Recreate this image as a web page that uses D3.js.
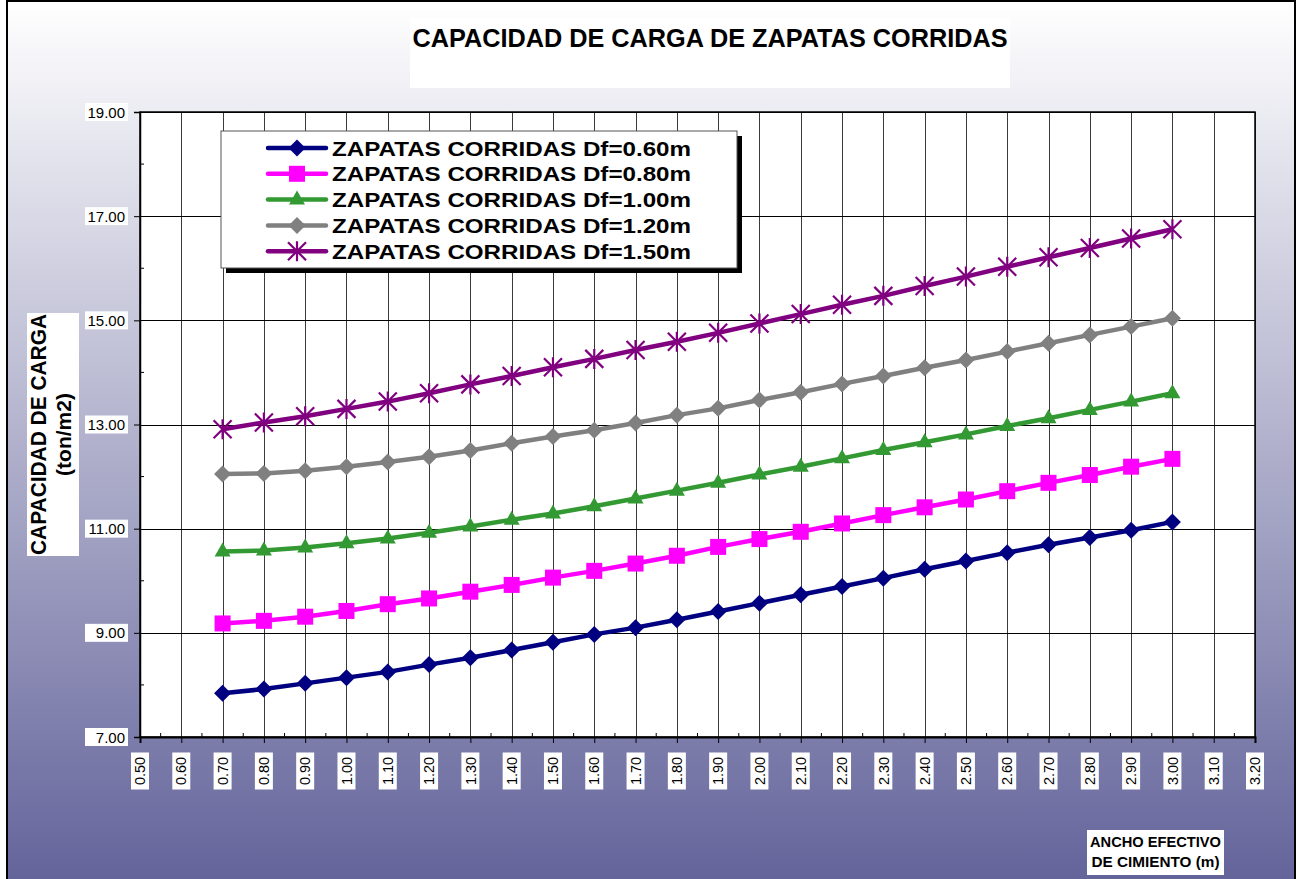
<!DOCTYPE html>
<html>
<head>
<meta charset="utf-8">
<script src="https://cdn.jsdelivr.net/npm/d3@7"></script>
<style>
  html, body { margin: 0; padding: 0; background: #fff; }
  svg { display: block; font-family: "Liberation Sans", Arial, sans-serif; }
</style>
</head>
<body>
<svg id="chart" width="1296" height="879"></svg>
<script>
// Ancho efectivo de cimiento B (m)
const anchos = [0.70, 0.80, 0.90, 1.00, 1.10, 1.20, 1.30, 1.40, 1.50, 1.60, 1.70, 1.80,
                1.90, 2.00, 2.10, 2.20, 2.30, 2.40, 2.50, 2.60, 2.70, 2.80, 2.90, 3.00];

// Capacidad de carga (ton/m2) por profundidad de desplante
const df060 = [7.84, 7.92, 8.03, 8.14, 8.25, 8.39, 8.52, 8.67, 8.82, 8.97, 9.10, 9.25,
               9.41, 9.57, 9.73, 9.89, 10.05, 10.22, 10.38, 10.54, 10.69, 10.83, 10.97, 11.13];
const df080 = [9.18, 9.23, 9.31, 9.42, 9.55, 9.66, 9.79, 9.92, 10.06, 10.19, 10.33, 10.48,
               10.65, 10.80, 10.94, 11.10, 11.26, 11.41, 11.56, 11.72, 11.88, 12.03, 12.19, 12.34];
const df100 = [10.56, 10.58, 10.64, 10.72, 10.81, 10.92, 11.04, 11.17, 11.29, 11.43, 11.58, 11.73,
               11.88, 12.04, 12.19, 12.35, 12.51, 12.66, 12.81, 12.97, 13.12, 13.28, 13.44, 13.60];
const df120 = [12.05, 12.06, 12.11, 12.19, 12.28, 12.38, 12.50, 12.64, 12.77, 12.89, 13.03, 13.18,
               13.31, 13.47, 13.62, 13.78, 13.93, 14.09, 14.24, 14.40, 14.56, 14.72, 14.88, 15.04];
const df150 = [12.91, 13.04, 13.16, 13.30, 13.44, 13.60, 13.77, 13.93, 14.10, 14.26, 14.43, 14.59,
               14.76, 14.94, 15.12, 15.30, 15.47, 15.66, 15.84, 16.03, 16.21, 16.39, 16.57, 16.75];

const seriesNames = ["ZAPATAS CORRIDAS Df=0.60m", "ZAPATAS CORRIDAS Df=0.80m",
                     "ZAPATAS CORRIDAS Df=1.00m", "ZAPATAS CORRIDAS Df=1.20m",
                     "ZAPATAS CORRIDAS Df=1.50m"];

// Ejes
const xTicks = d3.range(5, 33).map(d => d / 10);        // 0.50 ... 3.20
const yTicks = [7, 9, 11, 13, 15, 17, 19];
const xDomain = [0.5, 3.2];
const yDomain = [7, 19];

const titulo = "CAPACIDAD DE CARGA DE ZAPATAS CORRIDAS";
const tituloY = ["CAPACIDAD DE CARGA", "(ton/m2)"];
const tituloX = ["ANCHO EFECTIVO", "DE CIMIENTO (m)"];

// ---- estilos ----
const estilos = [
  { color: "#000080", shape: "diamond",  width: 4.5 },
  { color: "#FF00FF", shape: "square",   width: 4.5 },
  { color: "#339933", shape: "triangle", width: 4.5 },
  { color: "#808080", shape: "diamond",  width: 4.5 },
  { color: "#800080", shape: "asterisk", width: 4.5 }
];
const valores = [df060, df080, df100, df120, df150];
const series = seriesNames.map((name, i) => ({
  name, ...estilos[i],
  values: anchos.map((x, j) => ({ x, y: valores[i][j] }))
}));

const svg = d3.select("#chart");
const W = 1296, H = 879;
const plot = { left: 140, right: 1255, top: 112, bottom: 737 };

// Fondo degradado
const defs = svg.append("defs");
const grad = defs.append("linearGradient").attr("id", "bg")
  .attr("x1", 0).attr("y1", 0).attr("x2", 0).attr("y2", 1);
grad.append("stop").attr("offset", "0%").attr("stop-color", "#ffffff");
grad.append("stop").attr("offset", "100%").attr("stop-color", "#62629a");

svg.append("rect").attr("x", 0).attr("y", 0).attr("width", W).attr("height", H).attr("fill", "#fff");
svg.append("rect").attr("x", 7).attr("y", 1).attr("width", W - 8).attr("height", H + 10)
  .attr("fill", "url(#bg)").attr("stroke", "#000").attr("stroke-width", 2);

// Título
svg.append("rect").attr("x", 410).attr("y", 18).attr("width", 600).attr("height", 70).attr("fill", "#fff");
svg.append("text").attr("x", 710).attr("y", 47).attr("text-anchor", "middle")
  .attr("font-size", 25).attr("font-weight", "bold").attr("fill", "#000")
  .attr("textLength", 595).attr("lengthAdjust", "spacingAndGlyphs")
  .text(titulo);

const x = d3.scaleLinear().domain(xDomain).range([plot.left, plot.right]);
const y = d3.scaleLinear().domain(yDomain).range([plot.bottom, plot.top]);

// Área de trazado
svg.append("rect").attr("x", plot.left).attr("y", plot.top)
  .attr("width", plot.right - plot.left).attr("height", plot.bottom - plot.top).attr("fill", "#fff");

// Rejilla
const grid = svg.append("g").attr("shape-rendering", "crispEdges");
grid.selectAll("line.v").data(xTicks).join("line")
  .attr("x1", d => Math.round(x(d)) + 0.5).attr("x2", d => Math.round(x(d)) + 0.5)
  .attr("y1", plot.top).attr("y2", plot.bottom)
  .attr("stroke", "#3a3a3a").attr("stroke-width", 1);
grid.selectAll("line.h").data(yTicks).join("line")
  .attr("y1", d => Math.round(y(d)) + 0.5).attr("y2", d => Math.round(y(d)) + 0.5)
  .attr("x1", plot.left).attr("x2", plot.right)
  .attr("stroke", "#000").attr("stroke-width", 1);

// Marco del área
svg.append("rect").attr("x", plot.left).attr("y", plot.top)
  .attr("width", plot.right - plot.left).attr("height", plot.bottom - plot.top)
  .attr("fill", "none").attr("stroke", "#000").attr("stroke-width", 1.5);

// Eje Y
const yAxis = d3.axisLeft(y).tickValues(yTicks).tickSize(6).tickFormat(d3.format(".2f"));
const gy = svg.append("g").attr("transform", `translate(${plot.left},0)`).call(yAxis);
gy.select(".domain").attr("stroke", "#000").attr("stroke-width", 1.5);
gy.selectAll(".tick line").attr("stroke", "#000");
gy.selectAll(".tick text").remove();
// marcas secundarias (hacia adentro)
svg.append("g").selectAll("line").data(d3.range(8, 19, 2)).join("line")
  .attr("x1", plot.left).attr("x2", plot.left + 4)
  .attr("y1", d => y(d)).attr("y2", d => y(d)).attr("stroke", "#000");
// etiquetas con fondo blanco
const yl = svg.append("g").selectAll("g").data(yTicks).join("g")
  .attr("transform", d => `translate(0,${y(d)})`);
yl.append("rect").attr("x", 85).attr("y", -9).attr("width", 43).attr("height", 18).attr("fill", "#fff");
yl.append("text").attr("x", 125).attr("y", 5.5).attr("text-anchor", "end")
  .attr("font-size", 15).attr("fill", "#000").text(d => d3.format(".2f")(d));

// Eje X
const xAxis = d3.axisBottom(x).tickValues(xTicks).tickSize(6).tickFormat(d3.format(".2f"));
const gx = svg.append("g").attr("transform", `translate(0,${plot.bottom})`).call(xAxis);
gx.select(".domain").attr("stroke", "#000").attr("stroke-width", 2);
gx.selectAll(".tick line").attr("stroke", "#000");
gx.selectAll(".tick text").remove();
svg.append("g").selectAll("line").data(d3.range(5, 32).map(d => d / 10 + 0.05)).join("line")
  .attr("x1", d => x(d)).attr("x2", d => x(d))
  .attr("y1", plot.bottom).attr("y2", plot.bottom - 4).attr("stroke", "#000");
const xl = svg.append("g").selectAll("g").data(xTicks).join("g")
  .attr("transform", d => `translate(${x(d)},771) rotate(-90)`);
xl.append("rect").attr("x", -18.5).attr("y", -9).attr("width", 37).attr("height", 18).attr("fill", "#fff");
xl.append("text").attr("x", 0).attr("y", 5.2).attr("text-anchor", "middle")
  .attr("font-size", 14.5).attr("fill", "#000").text(d => d3.format(".2f")(d));

// Título del eje Y
svg.append("rect").attr("x", 27).attr("y", 313).attr("width", 52).attr("height", 243).attr("fill", "#fff");
svg.append("text").attr("transform", "translate(46,434.5) rotate(-90)")
  .attr("text-anchor", "middle").attr("font-size", 22).attr("font-weight", "bold")
  .attr("textLength", 241).attr("lengthAdjust", "spacingAndGlyphs").text(tituloY[0]);
svg.append("text").attr("transform", "translate(71,434.5) rotate(-90)")
  .attr("text-anchor", "middle").attr("font-size", 21).attr("font-weight", "bold")
  .text(tituloY[1]);

// Título del eje X
svg.append("rect").attr("x", 1087).attr("y", 830).attr("width", 137).attr("height", 45).attr("fill", "#fff");
svg.append("text").attr("x", 1155.5).attr("y", 847).attr("text-anchor", "middle")
  .attr("font-size", 14).attr("font-weight", "bold")
  .attr("textLength", 131).attr("lengthAdjust", "spacingAndGlyphs").text(tituloX[0]);
svg.append("text").attr("x", 1155.5).attr("y", 867).attr("text-anchor", "middle")
  .attr("font-size", 14).attr("font-weight", "bold")
  .attr("textLength", 128).attr("lengthAdjust", "spacingAndGlyphs").text(tituloX[1]);

// Marcadores
function drawMarker(g, shape, color) {
  if (shape === "diamond") {
    g.append("path").attr("d", "M0,-8.5L8.5,0L0,8.5L-8.5,0Z").attr("fill", color);
  } else if (shape === "square") {
    g.append("rect").attr("x", -8).attr("y", -8).attr("width", 16).attr("height", 16).attr("fill", color);
  } else if (shape === "triangle") {
    g.append("path").attr("d", "M0,-9L8,5L-8,5Z").attr("fill", color);
  } else if (shape === "asterisk") {
    g.append("path").attr("d", "M-9,-9L9,9M-9,9L9,-9M0,-10L0,10")
      .attr("stroke", color).attr("stroke-width", 2.2).attr("fill", "none");
  }
}

const line = d3.line().x(d => x(d.x)).y(d => y(d.y));
const sg = svg.append("g").selectAll("g").data(series).join("g");
sg.append("path").attr("d", d => line(d.values)).attr("fill", "none")
  .attr("stroke", d => d.color).attr("stroke-width", d => d.width).attr("stroke-linejoin", "round");
sg.each(function (s) {
  d3.select(this).selectAll("g.m").data(s.values).join("g").attr("class", "m")
    .attr("transform", d => `translate(${x(d.x)},${y(d.y)})`)
    .each(function () { drawMarker(d3.select(this), s.shape, s.color); });
});

// Leyenda
const lg = svg.append("g");
lg.append("rect").attr("x", 226).attr("y", 136).attr("width", 516).attr("height", 137).attr("fill", "#000");
lg.append("rect").attr("x", 221).attr("y", 131).attr("width", 516).attr("height", 137)
  .attr("fill", "#fff").attr("stroke", "#555").attr("stroke-width", 1);
const rows = lg.selectAll("g.row").data(series).join("g").attr("class", "row")
  .attr("transform", (d, i) => `translate(0,${148 + i * 25.8})`);
rows.append("line").attr("x1", 268).attr("x2", 326).attr("y1", 0).attr("y2", 0)
  .attr("stroke", d => d.color).attr("stroke-width", d => d.width).attr("stroke-linecap", "round");
rows.each(function (s) {
  drawMarker(d3.select(this).append("g").attr("transform", "translate(297,0)"), s.shape, s.color);
});
rows.append("text").attr("x", 332).attr("y", 7.5).attr("font-size", 20).attr("font-weight", "bold")
  .attr("textLength", 359).attr("lengthAdjust", "spacingAndGlyphs").text(d => d.name);
</script>
</body>
</html>
